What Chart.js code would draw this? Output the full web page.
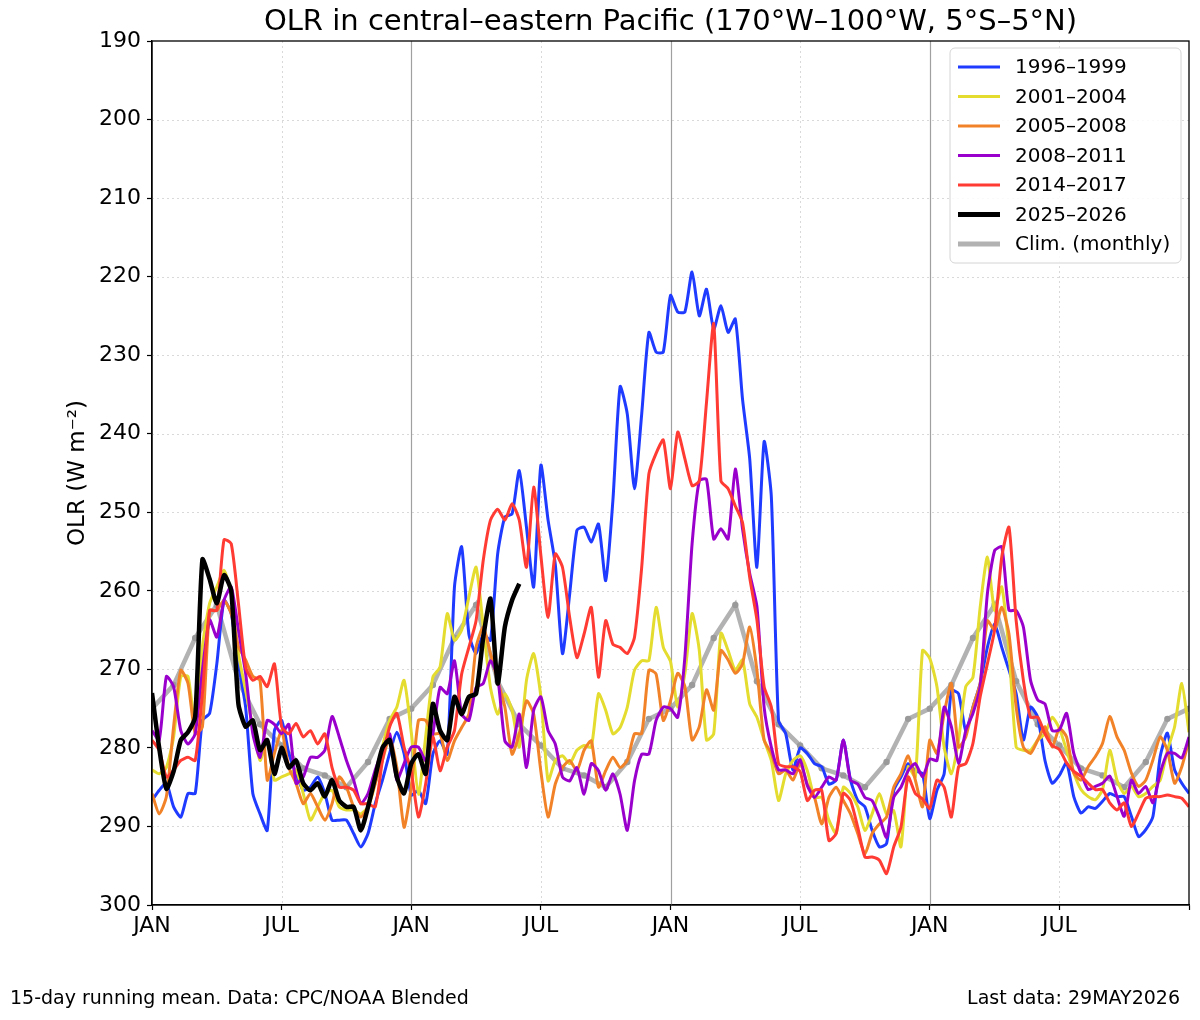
<!DOCTYPE html>
<html>
<head>
<meta charset="utf-8">
<title>OLR central-eastern Pacific</title>
<script src="https://cdn.jsdelivr.net/npm/chart.js@4.4.1/dist/chart.umd.min.js"></script>
<style>
  html, body { margin: 0; padding: 0; background: #fff; }
  #wrap { width: 1200px; height: 1020px; position: relative; }
</style>
</head>
<body>
<div id="wrap"><canvas id="olr"></canvas></div>
<script>
// x axis is in months since Jan of year 1, samples every ~10 days (1/3 month)
const stepMonths = 1 / 3;
const xTicks = [0, 6, 12, 18, 24, 30, 36, 42, 48];
const xTickLabels = ['JAN', 'JUL', 'JAN', 'JUL', 'JAN', 'JUL', 'JAN', 'JUL', ''];
const yTicks = [190, 200, 210, 220, 230, 240, 250, 260, 270, 280, 290, 300];

// OLR (W m-2), 15-day running mean
const s1996 = [286.7, 285.4, 284.5, 287.5, 288.8, 285.8, 285.8, 276.5, 275.6, 269.3, 261.2, 262.9, 269.3, 274.8, 285.8, 288.4, 290.5, 277.8, 276.5, 280.7, 283.3, 285.4, 285, 283.7, 285.8, 289.2, 289.2, 289.2, 290.9, 292.6, 290.9, 287.1, 284.1, 280.7, 278, 280.7,
  286,
  285.4, 287.1, 280.8, 279.1, 280.8, 259.5, 254.4, 265.5, 268, 265.5, 266.3, 255.3, 250.6, 250.2, 244.7, 251.9, 259.5, 244,
  251, 256.6, 268, 260.4, 252.3, 251.9, 253.8, 251.5, 258.7, 248.5, 234, 237.5, 247, 237.5,
  227.1, 229.6, 229.6, 222.4, 224.5, 224.5, 219.4, 225, 221.6, 226.7, 223.7, 227.1, 225.4, 235.6, 243.2, 257, 241, 248,
  276.5, 278.2, 282.8, 280,
  280.7, 282, 282.4, 284.6, 284.1, 279, 284.1, 286.7, 287.5, 290.5, 292.6, 292.2, 285.4, 283.7, 282, 282.9, 283.3, 289,
  285.4, 283.3, 272.7, 273.1, 277.8, 274.8, 271.8, 267.2, 264.2, 267.2, 270.1, 273.1, 279, 274.8, 276.1, 281.6, 284.5, 283.5,
  281.9, 286.2, 288.3, 287.5, 287.7, 286.8, 285.8, 286.2, 286.2, 288.7, 291.3, 290.4, 288.7, 281.1, 278.1, 282.8, 284.5, 285.8];

const s2001 = [282.8, 283.3, 282.5, 278.6, 270.9, 270.9, 277.3, 267.1, 261.6, 259.5, 257.4, 260.3, 268, 272.7, 277.3, 281.6, 279, 284.1, 283.7, 283.3, 282.8, 285.8, 289.2, 287.5, 285.8, 285.4, 287.5, 287.9, 287.9, 288.4, 287.5, 284.5, 279.9, 276.5, 274.8, 271.4,
  278,
  285.9, 278.6, 271, 269.7, 262.9, 266.3, 265, 260.8, 257, 264.6, 272.3, 275.7, 273.1, 275.2, 279.9, 271.4, 268, 273.5,
  284.2, 281.6, 281, 282, 280.3, 279.7, 279.9, 273.1, 275.2, 278.2, 277.4, 274.8, 270.1, 268.9, 268.9, 262.1, 267.2, 269,
  274.8, 270.5, 262.9, 267.6, 279, 278.2, 265.4, 267.6, 270.1, 268.8, 274.4, 276.1, 279, 281.6, 286.7, 283.3, 281.6, 281,
  282.9, 286.3, 286.3, 289.2, 290.9, 285, 285.8, 287.5, 290.5, 288.4, 285.8, 288.4, 288, 292.6, 282.4, 283.7, 267.6, 268.6,
  272.2, 279.9, 283.3, 279, 272.2, 271, 262.1, 255.7, 262.5, 259.5, 267.6, 279.9, 280.3, 280.3, 279, 278.2, 276.1, 277.5,
  280.3, 283.2, 285.3, 286.2, 286.6, 285.3, 280.3, 284.1, 285.8, 284.9, 286.2, 285.8, 284.9, 284.1, 280.3, 277.3, 271.8, 278];

const s2005 = [285.8, 288.4, 286.2, 277.3, 270.1, 271.8, 278.2, 277.3, 262.5, 262.5, 261.2, 262.9, 267.1, 268.8, 270.9, 271.4, 284.1, 280.7, 277.8, 282.5, 284.5, 287.1, 285.8, 287.5, 289.2, 287.1, 283.7, 285, 287.5, 288.8, 287.5, 284.5, 281.6, 278.6, 282.5, 290.1,
  285,
  276.5, 276.5, 278.2, 278.2, 281.6, 279.1, 277.4, 275.7, 267.2, 264.6, 268, 271.4, 274.8, 280.8, 278.2, 274, 275.7, 283,
  288.8, 284.6, 282.5, 281.6, 282.9, 280.3, 279.1, 285, 282.9, 281.2, 282.5, 281.6, 278.2, 278.2, 270.1, 270.6, 276.5, 274,
  270.5, 272.2, 279, 277.3, 272.6, 275.2, 267.6, 268.8, 270.5, 269.3, 264.6, 270.1, 279, 280.7, 283.3, 282.8, 284.1, 282,
  284.6, 286.3, 289.7, 286.3, 285, 286.7, 288.4, 290.9, 293.5, 290.9, 289.7, 288.8, 285, 283.3, 281, 284.1, 287.5, 279,
  280.7, 275.6, 271.8, 279.9, 278.6, 274.8, 271.8, 263.8, 265, 262.1, 265.5, 274.8, 279.9, 280.7, 279, 277.3, 279.9, 277.5,
  278.6, 283.2, 284.1, 282.4, 281.1, 279.4, 276, 278.6, 280.3, 283.2, 284.9, 284.1, 281.5, 278.6, 280.3, 284.5, 282.4, 279];

const s2008 = [277.8, 279, 270.9, 272.2, 277.8, 279.5, 278.2, 270.1, 263.7, 265.9, 261.2, 259.5, 265, 270.5, 278.2, 281.2, 276.5, 277, 278.2, 277, 284.5, 283.7, 281.2, 281.2, 280.3, 276, 278.6, 281.6, 284.1, 287.1, 285.8, 282.8, 280.3, 278.2, 284.1, 282,
  279.9,
  279.9, 281.6, 278.2, 272.3, 273.1, 268.9, 275.7, 276.5, 272.3, 271.8, 268.9, 271, 279.1, 279.9, 275.7, 282.5, 275.2, 273.5,
  277.8, 279.5, 283.7, 284.2, 282.5, 285.9, 282, 282.9, 285.4, 283.3, 285.9, 290.5, 284.2, 280.8, 280.8, 276.5, 274.8, 275,
  276.1, 268.4, 254, 246, 245.8, 253.4, 252.1, 253.4, 244.5, 252.1, 257.8, 262, 274.8, 279.9, 282.8, 282.8, 283.3, 281.5,
  284.8, 286.3, 285, 283.7, 284.1, 279, 284.1, 284.6, 286.3, 286.7, 288.8, 291.4, 286.3, 285, 282.9, 282, 283.7, 281.4,
  281.6, 274.8, 277.3, 282, 277.8, 275.6, 272.2, 260.4, 254.9, 254.4, 262.5, 262.5, 264.6, 271.4, 273.9, 274.4, 277.8, 277.7,
  275.6, 280.7, 283.2, 285.3, 284.9, 284.5, 283.6, 286.2, 288.7, 284.1, 285.8, 284.9, 287, 283.2, 280.7, 280.7, 281.3, 278.6];

const s2014 = [279, 280.3, 283.7, 282.8, 281.6, 281.2, 281.6, 273.1, 262.5, 262.5, 253.5, 254, 261.6, 269.7, 271.4, 270.9, 272.2, 269.3, 277.3, 278.2, 276.9, 278.6, 277.8, 279.5, 278.2, 282.5, 285, 285, 285.4, 287.1, 287.1, 287.5, 281.6, 277.3, 275.6, 279.9,
  283,
  288.8, 284.6, 278.6, 282.9, 279.9, 277.8, 270.6, 267.2, 263.8, 256.1, 251, 249.6, 251, 248.9, 251, 257, 246.8, 255.5,
  263.4, 255.3, 257, 263.4, 268.5, 265.5, 262.1, 271, 263.8, 266.8, 267.2, 268, 265.9, 257, 245.1, 242.5, 240.8, 247,
  239.8, 243.2, 246.6, 246, 236, 226, 246, 247, 249.2, 251.3, 258.3, 263.7, 272.2, 274.8, 282, 282.4, 282.4, 283,
  286.7, 285.4, 285.4, 291.8, 290.9, 285.8, 286.7, 290.1, 293.9, 293.9, 294.3, 296, 292.6, 290.1, 283.7, 285.8, 286.5, 287.7,
  284.1, 285, 288.8, 282.4, 282, 279.4, 273.5, 269.3, 265, 255.7, 251.9, 263.8, 271.4, 276.1, 276.1, 278.2, 279.7, 280.2,
  281.9, 283, 283.6, 284.5, 285.3, 285.3, 287, 287.9, 287, 290, 288.3, 286.4, 286.2, 286.2, 286, 286.2, 286.4, 287.5];

// current event, last data 29 May 2026
const s2025 = [273, 280, 285.2, 283, 279, 278, 276, 256, 258.5, 261.6, 258, 260, 274.4, 277.3, 276.5, 280.3, 279, 283.3, 280, 282.5, 281.6, 284.5, 285.4, 284.5, 286.2, 284.1, 286.7, 287.5, 287.5, 290.5, 287.5, 283.7, 280, 279, 283.7, 285.8, 282,
  280.8, 283.3, 274.4, 277.8, 279, 273.5, 275.7, 273.5, 273.1, 265.9, 261, 271.8, 264.6, 261.2, 259.1];

// monthly climatology Jan..Dec, repeated each year
const climMonthly = [275, 272, 266, 261.8, 271.5, 277, 279.7, 282.6, 283.5, 285, 281.8, 276.3];
const climMonths = [0, 1, 2, 3, 4, 5, 6, 7, 8, 9, 10, 11, 12, 13, 14, 15, 16, 17, 18, 19, 20, 21, 22, 23, 24,
  25, 26, 27, 28, 29, 30, 31, 32, 33, 34, 35, 36, 37, 38, 39, 40, 41, 42, 43, 44, 45, 46, 47, 48];

const toPts = arr => arr.map((v, i) => ({ x: i * stepMonths, y: v }));

Chart.defaults.font.family = 'DejaVu Sans';
Chart.defaults.color = '#000';

function series(label, arr, color, width, order) {
  return {
    label: label, data: toPts(arr), borderColor: color, backgroundColor: color,
    borderWidth: width, pointRadius: 0, tension: 0.2, order: order
  };
}

const datasets = [
  series('1996\u20131999', s1996, '#1f3bff', 3, 5),
  series('2001\u20132004', s2001, '#e4dc2e', 3, 4),
  series('2005\u20132008', s2005, '#f28228', 3, 3),
  series('2008\u20132011', s2008, '#9a00cc', 3, 2),
  series('2014\u20132017', s2014, '#ff3b33', 3, 1),
  series('2025\u20132026', s2025, '#000000', 4.5, 0),
  {
    label: 'Clim. (monthly)',
    data: climMonths.map(m => ({ x: m, y: climMonthly[m % 12] })),
    borderColor: 'rgba(165,165,165,0.85)', borderWidth: 4.5, tension: 0,
    pointRadius: 3.2, pointBackgroundColor: '#9a9a9a', pointBorderWidth: 0, order: 6
  }
];

// grid, frame, legend and the texts around the plot
const decor = {
  id: 'decor',
  beforeDatasetsDraw(chart) {
    const { ctx, chartArea: a, scales: { x, y } } = chart;
    ctx.save();
    ctx.lineWidth = 1;
    ctx.strokeStyle = '#d9d9d9';
    ctx.setLineDash([2, 3]);
    yTicks.forEach(v => {
      if (v === 190 || v === 300) return;
      const py = Math.round(y.getPixelForValue(v)) + 0.5;
      ctx.beginPath(); ctx.moveTo(a.left, py); ctx.lineTo(a.right, py); ctx.stroke();
    });
    xTicks.forEach((v, i) => {
      if (xTickLabels[i] !== 'JUL') return;
      const px = Math.round(x.getPixelForValue(v)) + 0.5;
      ctx.beginPath(); ctx.moveTo(px, a.top); ctx.lineTo(px, a.bottom); ctx.stroke();
    });
    ctx.setLineDash([]);
    ctx.strokeStyle = '#a0a0a0';
    ctx.lineWidth = 1.2;
    xTicks.forEach((v, i) => {
      if (xTickLabels[i] !== 'JAN' || v === 0) return;
      const px = Math.round(x.getPixelForValue(v)) + 0.5;
      ctx.beginPath(); ctx.moveTo(px, a.top); ctx.lineTo(px, a.bottom); ctx.stroke();
    });
    ctx.restore();
  },
  afterDatasetsDraw(chart) {
    const { ctx, chartArea: a } = chart;
    ctx.save();
    ctx.strokeStyle = '#000';
    ctx.lineWidth = 1.3;
    ctx.strokeRect(a.left, a.top, a.right - a.left, a.bottom - a.top);

    // legend box, upper right inside the plot
    const bx = 950, by = 48, bw = 231, bh = 215;
    ctx.beginPath();
    ctx.roundRect(bx, by, bw, bh, 5);
    ctx.fillStyle = 'rgba(255,255,255,0.85)';
    ctx.fill();
    ctx.strokeStyle = '#d4d4d4';
    ctx.lineWidth = 1;
    ctx.stroke();
    ctx.font = '20px DejaVu Sans';
    ctx.textBaseline = 'middle';
    ctx.textAlign = 'left';
    chart.data.datasets.forEach((ds, i) => {
      const ry = by + 19 + i * 29.5;
      ctx.strokeStyle = ds.borderColor;
      ctx.lineWidth = ds.borderWidth >= 4 ? 5 : 3;
      ctx.beginPath(); ctx.moveTo(bx + 8, ry); ctx.lineTo(bx + 50, ry); ctx.stroke();
      ctx.fillStyle = '#000';
      ctx.fillText(ds.label, bx + 65, ry + 1);
    });
    ctx.restore();
  },
  afterDraw(chart) {
    const { ctx, chartArea: a } = chart;
    ctx.save();
    ctx.fillStyle = '#000';
    ctx.textBaseline = 'middle';
    ctx.textAlign = 'center';
    ctx.font = '29px DejaVu Sans';
    ctx.fillText('OLR in central\u2013eastern Pacific (170\u00b0W\u2013100\u00b0W, 5\u00b0S\u20135\u00b0N)', (a.left + a.right) / 2, 22);

    ctx.save();
    ctx.translate(78, (a.top + a.bottom) / 2);
    ctx.rotate(-Math.PI / 2);
    ctx.font = '23px DejaVu Sans';
    ctx.fillText('OLR (W m\u207b\u00b2)', 0, 0);
    ctx.restore();

    ctx.font = '19px DejaVu Sans';
    ctx.textAlign = 'left';
    ctx.fillText('15-day running mean. Data: CPC/NOAA Blended', 10, 999);
    ctx.textAlign = 'right';
    ctx.fillText('Last data: 29MAY2026', 1180, 999);
    ctx.restore();
  }
};

new Chart(document.getElementById('olr'), {
  type: 'line',
  data: { datasets: datasets },
  options: {
    responsive: true,
    maintainAspectRatio: false,
    animation: false,
    layout: { padding: { top: 41, right: 11, bottom: 75, left: 0 } },
    plugins: { legend: { display: false }, tooltip: { enabled: false } },
    scales: {
      x: {
        type: 'linear', min: 0, max: 48,
        afterFit(scale) { scale.height = 40; },
        afterBuildTicks(scale) { scale.ticks = xTicks.map(v => ({ value: v })); },
        ticks: {
          autoSkip: false, maxRotation: 0, padding: 3,
          font: { size: 22 }, color: '#000',
          callback: (v) => xTickLabels[xTicks.indexOf(v)]
        },
        grid: { drawOnChartArea: false, drawTicks: true, tickLength: 5, color: '#000', tickWidth: 1.2 },
        border: { display: true, color: '#000', width: 1.3 }
      },
      y: {
        reverse: true, min: 190, max: 300,
        afterFit(scale) { scale.width = 152; },
        afterBuildTicks(scale) { scale.ticks = yTicks.map(v => ({ value: v })); },
        ticks: { padding: 6, font: { size: 22 }, color: '#000' },
        grid: { drawOnChartArea: false, drawTicks: true, tickLength: 5, color: '#000', tickWidth: 1.2 },
        border: { display: true, color: '#000', width: 1.3 }
      }
    }
  },
  plugins: [decor]
});
</script>
</body>
</html>
